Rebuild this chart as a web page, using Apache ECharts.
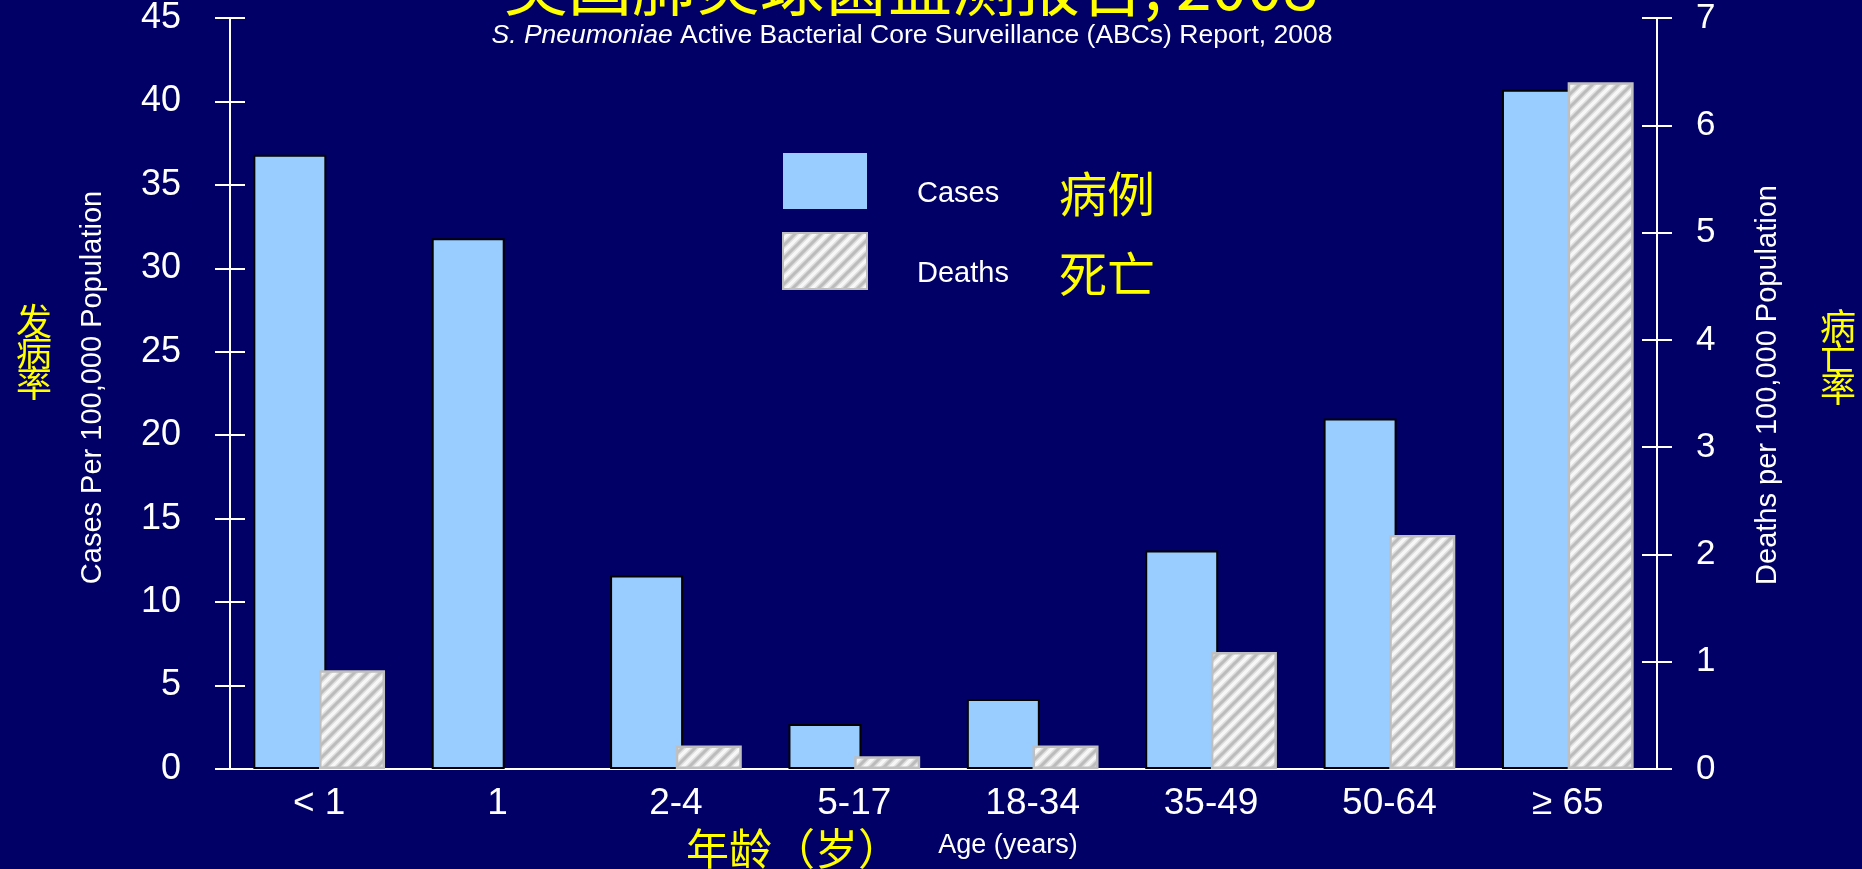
<!DOCTYPE html>
<html>
<head>
<meta charset="utf-8">
<script src="https://cdn.jsdelivr.net/npm/echarts@6/dist/echarts.min.js"></script>
<style>
  html, body { margin: 0; padding: 0; background: #000066; }
  #chart { width: 1862px; height: 869px; }
</style>
</head>
<body>
<div id="chart"></div>
<script>
const categories = ['< 1', '1', '2-4', '5-17', '18-34', '35-49', '50-64', '≥ 65'];
const casesPer100k = [36.8, 31.8, 11.6, 2.7, 4.2, 13.1, 21.0, 40.7];
const deathsPer100k = [0.92, null, 0.22, 0.12, 0.22, 1.09, 2.18, 6.40];
const seriesNames = ['Cases', 'Deaths'];
const seriesNamesCn = ['病例', '死亡'];
const casesAxis = { min: 0, max: 45, interval: 5 };
const deathsAxis = { min: 0, max: 7, interval: 1 };

const FONT = '"Liberation Sans", Arial, sans-serif';
const CJK = '"Noto Sans CJK SC", sans-serif';
const WHITE = '#ffffff';
const YELLOW = '#ffff00';

function makeHatch() {
    const s = 13;
    const c = document.createElement('canvas');
    c.width = c.height = s;
    const ctx = c.getContext('2d');
    ctx.fillStyle = '#f7f7f7';
    ctx.fillRect(0, 0, s, s);
    [[6, '#dedede'], [3, '#bcbcbc']].forEach(([w, col]) => {
        ctx.strokeStyle = col;
        ctx.lineWidth = w;
        ctx.beginPath();
        [0, s, 2 * s].forEach(k => {
            ctx.moveTo(k - s - 2, s + 2);
            ctx.lineTo(k + 2, -2);
        });
        ctx.stroke();
    });
    return c;
}

const chart = echarts.init(document.getElementById('chart'));

function valueAxis(range, position, withLabels, inside) {
    return {
        type: 'value',
        position: position,
        min: range.min,
        max: range.max,
        interval: range.interval,
        axisLine: { show: withLabels, lineStyle: { color: WHITE, width: 2 } },
        axisTick: { show: true, inside: inside, length: 15, lineStyle: { color: WHITE, width: 2 } },
        splitLine: { show: false },
        axisLabel: { show: withLabels }
    };
}

const yCases = valueAxis(casesAxis, 'left', true, false);
yCases.axisLabel = { color: WHITE, fontSize: 36, fontFamily: FONT, margin: 49 };
yCases.name = 'Cases Per 100,000 Population';
yCases.nameLocation = 'middle';
yCases.nameRotate = 90;
yCases.nameGap = 123;
yCases.nameTextStyle = { color: WHITE, fontSize: 29, fontFamily: FONT, padding: [0, 0, 0, 12] };

const yDeaths = valueAxis(deathsAxis, 'right', true, false);
yDeaths.axisLabel = { color: WHITE, fontSize: 35, fontFamily: FONT, margin: 39 };
yDeaths.name = 'Deaths per 100,000 Population';
yDeaths.nameLocation = 'middle';
yDeaths.nameRotate = 90;
yDeaths.nameGap = 96;
yDeaths.nameTextStyle = { color: WHITE, fontSize: 29, fontFamily: FONT, padding: [0, 0, 0, 17] };

const option = {
    backgroundColor: '#000066',
    animation: false,
    grid: { left: 230, right: 205, top: 18, bottom: 100 },
    legend: {
        orient: 'vertical',
        left: 782,
        top: 153,
        padding: 0,
        icon: 'rect',
        itemWidth: 84,
        itemHeight: 56,
        itemGap: 14,
        data: [
            { name: seriesNames[0], itemStyle: { borderWidth: 0 } },
            { name: seriesNames[1] }
        ],
        formatter: name => `{sp|\u00a0}{en|${name}}{cn|${seriesNamesCn[seriesNames.indexOf(name)]}}`,
        textStyle: {
            padding: [26, 0, 0, 0],
            rich: {
                sp: { width: 45, fontSize: 29 },
                en: { color: WHITE, fontSize: 29, fontFamily: FONT, width: 125, align: 'left' },
                cn: { color: YELLOW, fontSize: 48, fontFamily: CJK, lineHeight: 56, padding: [0, 0, 0, 17] }
            }
        }
    },
    xAxis: [
        {
            type: 'category',
            position: 'bottom',
            data: categories,
            axisLine: { lineStyle: { color: WHITE, width: 2 } },
            axisTick: { interval: 0, length: 11, lineStyle: { color: WHITE, width: 2 } },
            axisLabel: { color: WHITE, fontSize: 37, fontFamily: FONT, margin: 16, interval: 0 }
        },
        {
            type: 'category',
            position: 'bottom',
            data: categories,
            axisLine: { show: false },
            axisTick: { inside: true, interval: 0, length: 11, lineStyle: { color: WHITE, width: 2 } },
            axisLabel: { show: false }
        }
    ],
    yAxis: [
        yCases,
        valueAxis(casesAxis, 'left', false, true),
        yDeaths,
        valueAxis(deathsAxis, 'right', false, true)
    ],
    series: [
        {
            name: seriesNames[0],
            type: 'bar',
            xAxisIndex: 0,
            yAxisIndex: 0,
            barWidth: 73,
            barGap: '-10%',
            itemStyle: { color: '#99ccff', borderColor: '#000000', borderWidth: 2 },
            data: casesPer100k
        },
        {
            name: seriesNames[1],
            type: 'bar',
            xAxisIndex: 0,
            yAxisIndex: 2,
            barWidth: 66,
            itemStyle: {
                color: { image: makeHatch(), repeat: 'repeat' },
                borderColor: '#bfbfbf',
                borderWidth: 2.5
            },
            data: deathsPer100k
        }
    ],
    graphic: [
        {
            type: 'text', x: 911, y: -14,
            style: { text: '美国肺炎球菌监测报告, 2008', fill: YELLOW, fontSize: 64, fontFamily: CJK, align: 'center', verticalAlign: 'middle' }
        },
        {
            type: 'text', x: 912, y: 36,
            style: {
                text: '{i|S. Pneumoniae} Active Bacterial Core Surveillance (ABCs) Report, 2008',
                fill: WHITE, fontSize: 26.5, fontFamily: FONT, align: 'center', verticalAlign: 'middle',
                rich: { i: { fill: WHITE, fontSize: 26.5, fontFamily: FONT, fontStyle: 'italic' } }
            }
        },
        {
            type: 'text', x: 34, y: 352,
            style: { text: '发\n病\n率', fill: YELLOW, fontSize: 36, lineHeight: 31, fontFamily: CJK, align: 'center', verticalAlign: 'middle' }
        },
        {
            type: 'text', x: 1838, y: 357,
            style: { text: '病\n亡\n率', fill: YELLOW, fontSize: 36, lineHeight: 31, fontFamily: CJK, align: 'center', verticalAlign: 'middle' }
        },
        {
            type: 'text', x: 686, y: 849,
            style: { text: '年龄（岁）', fill: YELLOW, fontSize: 43, fontFamily: CJK, align: 'left', verticalAlign: 'middle' }
        },
        {
            type: 'text', x: 1008, y: 846,
            style: { text: 'Age (years)', fill: WHITE, fontSize: 27, fontFamily: FONT, align: 'center', verticalAlign: 'middle' }
        }
    ]
};

chart.setOption(option);
</script>
</body>
</html>
